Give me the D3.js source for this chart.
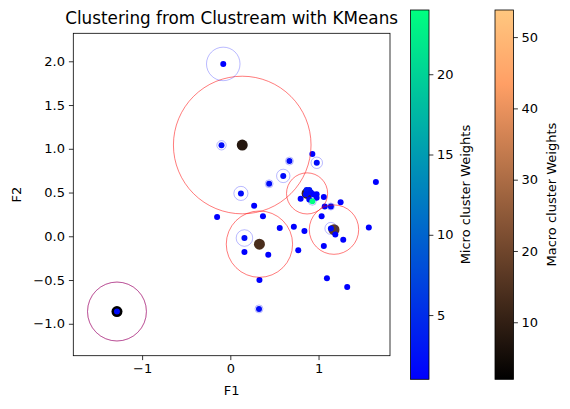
<!DOCTYPE html>
<html>
<head>
<meta charset="utf-8">
<script src="https://cdn.jsdelivr.net/npm/d3@7"></script>
<style>
  body { margin: 0; background: #fff; }
  text { font-family: "DejaVu Sans", sans-serif; fill: #000; }
</style>
</head>
<body>
<script>
// micro clusters: centre, weight, radius (data units)
var microX = [-0.08, -0.10, 0.93, 0.98, 0.67, 0.60, 0.44, 1.65, 0.12, 0.865, 0.895, 0.88, 0.914, 0.857, 0.94, 0.978, 0.797, 0.978, 0.895, 0.93, 1.06, 0.27, -0.15, 0.37, 1.07, 1.14, 1.25, 1.035, 0.56, 0.72, 0.84, 1.14, 1.19, 1.28, 1.57, 1.06, 0.77, 0.16, 0.16, 0.43, 0.33, 1.095, 1.325, 0.325, -1.285];
var microY = [1.97, 1.04, 0.94, 0.84, 0.86, 0.69, 0.60, 0.62, 0.49, 0.53, 0.53, 0.50, 0.50, 0.48, 0.48, 0.48, 0.43, 0.44, 0.42, 0.40, 0.45, 0.35, 0.22, 0.23, 0.34, 0.34, 0.39, 0.23, 0.095, 0.11, 0.06, 0.09, 0.02, -0.04, 0.10, -0.11, -0.16, -0.02, -0.18, -0.21, -0.50, -0.48, -0.58, -0.83, -0.86];
var microW = [1, 2, 1, 2, 2, 2, 2, 1, 2, 3, 3, 3, 2, 2, 1, 1, 1, 1, 1, 24, 1, 1, 1, 1, 1, 2, 1, 1, 1, 1, 1, 2, 1, 1, 1, 1, 1, 2, 1, 1, 1, 1, 1, 2, 2];
var microR = [0.19, 0.053, 0, 0.065, 0.045, 0.076, 0.045, 0, 0.08, 0, 0, 0, 0, 0, 0, 0, 0, 0, 0, 0.045, 0, 0, 0, 0, 0, 0.04, 0, 0, 0, 0, 0, 0.068, 0, 0, 0, 0, 0, 0.094, 0, 0, 0, 0, 0, 0.045, 0.334];

// macro clusters (KMeans)
var macroX = [0.135, 0.87, 0.33, 1.175, -1.285];
var macroY = [1.043, 0.49, -0.09, 0.076, -0.86];
var macroW = [8, 12, 14, 17, 2];
var macroR = [0.78, 0.233, 0.376, 0.28, 0.334];

// axes / colorbar ranges and ticks
var xDomain = [-1.78, 1.81];
var yDomain = [-1.365, 2.32];
var xTicks = [-1, 0, 1];
var yTicks = [-1.0, -0.5, 0.0, 0.5, 1.0, 1.5, 2.0];
var microRange = [1, 24];
var microTicks = [5, 10, 15, 20];
var macroRange = [2, 53.8];
var macroTicks = [10, 20, 30, 40, 50];

var W = 570, H = 409;
var plotL = 73.3, plotR = 390, plotT = 33.3, plotB = 355.7;
var tickFont = "13px";

var svg = d3.select("body").append("svg")
    .attr("width", W).attr("height", H);

var x = d3.scaleLinear().domain(xDomain).range([plotL, plotR]);
var y = d3.scaleLinear().domain(yDomain).range([plotB, plotT]);
var pxPerUnit = (plotR - plotL) / (xDomain[1] - xDomain[0]);

// colormaps: matplotlib winter and copper
function winter(t) { return d3.rgb(0, 255 * t, 255 - 127.5 * t); }
function copper(t) { return d3.rgb(Math.min(1, 1.25 * t) * 255, 0.7812 * t * 255, 0.4975 * t * 255); }
var microT = d3.scaleLinear().domain(microRange).range([0, 1]).clamp(true);
var macroT = d3.scaleLinear().domain(macroRange).range([0, 1]).clamp(true);

var defs = svg.append("defs");
defs.append("clipPath").attr("id", "plotclip")
  .append("rect").attr("x", plotL).attr("y", plotT)
  .attr("width", plotR - plotL).attr("height", plotB - plotT);

var plot = svg.append("g").attr("clip-path", "url(#plotclip)");

var micro = microX.map(function(d, i) { return {x: d, y: microY[i], w: microW[i], r: microR[i]}; });
var macro = macroX.map(function(d, i) { return {x: d, y: macroY[i], w: macroW[i], r: macroR[i]}; });

//macro centres first, micro dots sit on top
plot.selectAll(".macro").data(macro).enter().append("circle")
  .attr("cx", function(d) { return x(d.x); })
  .attr("cy", function(d) { return y(d.y); })
  .attr("r", 5.5)
  .style("fill", function(d) { return copper(macroT(d.w)); });

plot.selectAll(".micro").data(micro).enter().append("circle")
  .attr("cx", function(d) { return x(d.x); })
  .attr("cy", function(d) { return y(d.y); })
  .attr("r", 3)
  .style("fill", function(d) { return winter(microT(d.w)); });

//cluster radii
plot.selectAll(".macroR").data(macro).enter().append("circle")
  .attr("cx", function(d) { return x(d.x); })
  .attr("cy", function(d) { return y(d.y); })
  .attr("r", function(d) { return d.r * pxPerUnit; })
  .style("fill", "none")
  .style("stroke", "rgba(255,0,0,0.65)")
  .style("stroke-width", 0.8);

plot.selectAll(".microR").data(micro.filter(function(d) { return d.r > 0; })).enter().append("circle")
  .attr("cx", function(d) { return x(d.x); })
  .attr("cy", function(d) { return y(d.y); })
  .attr("r", function(d) { return d.r * pxPerUnit; })
  .style("fill", "none")
  .style("stroke", "rgba(0,0,255,0.35)")
  .style("stroke-width", 0.8);

//axes
var xAxis = svg.append("g").attr("transform", "translate(0," + plotB + ")")
  .call(d3.axisBottom(x).tickValues(xTicks).tickSize(4.4).tickPadding(4).tickFormat(function(d) { return d3.format("d")(d).replace("-", "\u2212"); }));
var yAxis = svg.append("g").attr("transform", "translate(" + plotL + ",0)")
  .call(d3.axisLeft(y).tickValues(yTicks).tickSize(4.4).tickPadding(4).tickFormat(function(d) { return d3.format(".1f")(d).replace("-", "\u2212"); }));
[xAxis, yAxis].forEach(function(a) {
  a.select(".domain").remove();
  a.selectAll("line").style("stroke", "#000").style("stroke-width", 0.8);
  a.selectAll("text").style("font-size", tickFont).style("font-family", "DejaVu Sans").style("fill", "#000");
});

svg.append("rect").attr("x", plotL).attr("y", plotT)
  .attr("width", plotR - plotL).attr("height", plotB - plotT)
  .style("fill", "none").style("stroke", "#000").style("stroke-width", 0.8);

svg.append("text").attr("x", (plotL + plotR) / 2).attr("y", 24)
  .attr("text-anchor", "middle").style("font-size", "16.8px")
  .text("Clustering from Clustream with KMeans");
svg.append("text").attr("x", (plotL + plotR) / 2).attr("y", 395)
  .attr("text-anchor", "middle").style("font-size", tickFont).text("F1");
svg.append("text").attr("transform", "translate(21," + ((plotT + plotB) / 2) + ")rotate(-90)")
  .attr("text-anchor", "middle").style("font-size", tickFont).text("F2");

//colorbars
function colorbar(id, x0, range, ticks, cmap, label, labelX) {
  var grad = defs.append("linearGradient").attr("id", id)
    .attr("x1", 0).attr("y1", 1).attr("x2", 0).attr("y2", 0);
  d3.range(0, 1.0001, 0.05).forEach(function(t) {
    grad.append("stop").attr("offset", t).attr("stop-color", cmap(t));
  });
  var cb = d3.scaleLinear().domain(range).range([379.3, 10]);
  svg.append("rect").attr("x", x0).attr("y", 10).attr("width", 18.5).attr("height", 369.3)
    .style("fill", "url(#" + id + ")").style("stroke", "#000").style("stroke-width", 0.8);
  var ax = svg.append("g").attr("transform", "translate(" + (x0 + 18.5) + ",0)")
    .call(d3.axisRight(cb).tickValues(ticks).tickSize(4.4).tickPadding(3.5));
  ax.select(".domain").remove();
  ax.selectAll("line").style("stroke", "#000").style("stroke-width", 0.8);
  ax.selectAll("text").style("font-size", tickFont).style("font-family", "DejaVu Sans").style("fill", "#000");
  svg.append("text").attr("transform", "translate(" + labelX + ",194.6)rotate(-90)")
    .attr("text-anchor", "middle").style("font-size", tickFont).text(label);
}
colorbar("winterGrad", 410.5, microRange, microTicks, winter, "Micro cluster Weights", 470);
colorbar("copperGrad", 495, macroRange, macroTicks, copper, "Macro cluster Weights", 556);
</script>
</body>
</html>
